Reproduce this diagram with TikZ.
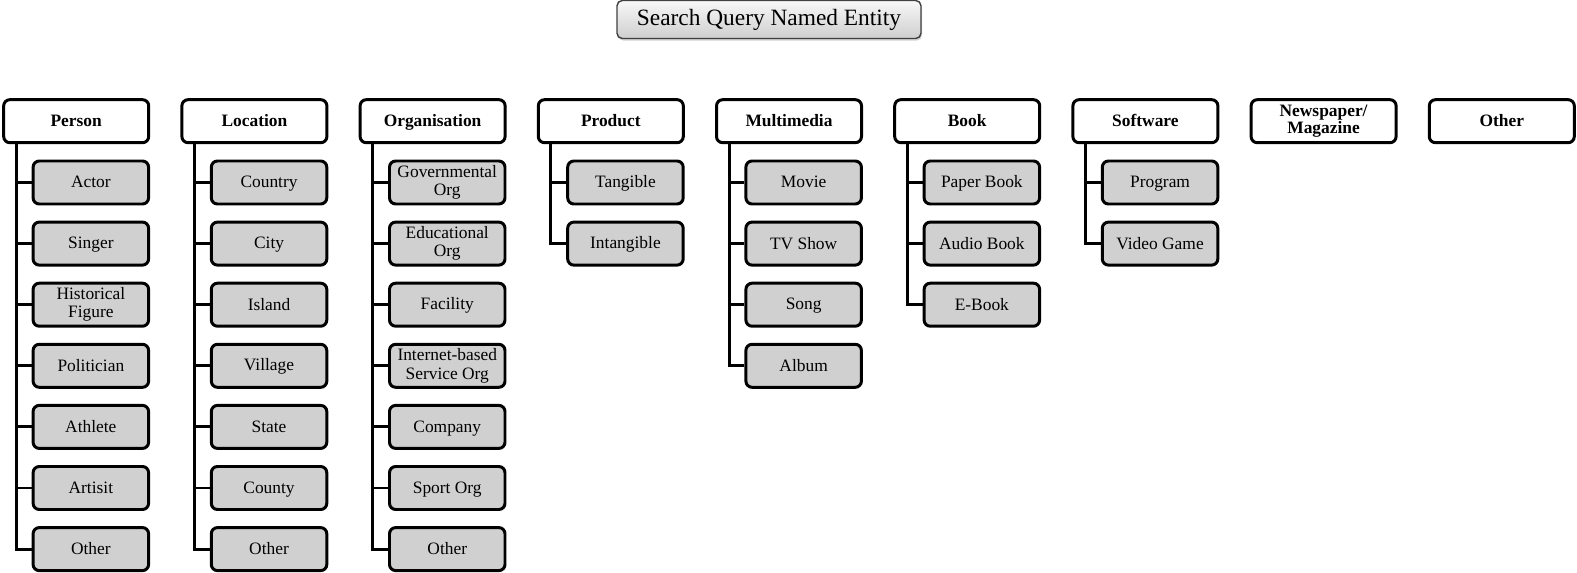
\documentclass[tikz,border=0pt]{standalone}
\usepackage{fontspec}
\setmainfont{Liberation Serif}
\usetikzlibrary{calc,positioning,shadows}
\definecolor{leafbg}{HTML}{D0D0D0}
\definecolor{rootline}{HTML}{404040}
\newcommand{\boxstrut}{\rule[-1.8pt]{0pt}{9.8pt}}
\tikzset{
  root/.style={draw=rootline, line width=0.8pt, rounded corners=3pt,
    top color=gray!6, bottom color=gray!38, minimum width=6.08cm, minimum height=0.76cm,
    font=\fontsize{13.3}{15}\selectfont,
    drop shadow={opacity=0.35, shadow xshift=0.6pt, shadow yshift=-1.2pt}},
  cat/.style={draw, fill=white, line width=1.7pt, rounded corners=3.5pt,
    minimum width=2.9cm, minimum height=0.86cm, inner sep=1pt, align=center,
    execute at begin node=\boxstrut, execute at end node=\boxstrut,
    font=\fontsize{9.9}{9.4}\selectfont\bfseries},
  leaf/.style={cat, fill=leafbg, minimum width=2.31cm,
    font=\fontsize{9.9}{10.4}\selectfont},
  link/.style={draw, line width=1.7pt}
}
% children of one category, hanging from a spine on its left
\newcommand{\kids}[2]{%
  \foreach \txt [count=\k] in {#2} {
    \node[leaf] (#1-\k) at ($(#1)+(0.293,{-1.226-1.222*(\k-1)})$) {\txt};
    \draw[link] ($(#1.south west)+(0.28,0)$) |- (#1-\k.west);
  }}

\begin{document}
\begin{tikzpicture}
  \useasboundingbox (0,0) rectangle (31.54,-11.46);
  \node[root] (root) at (15.38,-0.39) {Search Query Named Entity};

  \node[cat] (person) at (1.524,-2.424)  {Person};
  \node[cat] (loc)    at (5.088,-2.424)  {Location};
  \node[cat] (org)    at (8.652,-2.424)  {Organisation};
  \node[cat] (prod)   at (12.216,-2.424) {Product};
  \node[cat] (media)  at (15.78,-2.424)  {Multimedia};
  \node[cat] (book)   at (19.344,-2.424) {Book};
  \node[cat] (soft)   at (22.908,-2.424) {Software};
  \node[cat] (news)   at (26.472,-2.424) {Newspaper/\\Magazine};
  \node[cat] (other)  at (30.036,-2.424) {Other};

  \kids{person}{Actor, Singer, {Historical\\Figure}, Politician, Athlete, Artisit, Other}
  \kids{loc}{Country, City, Island, Village, State, County, Other}
  \kids{org}{{Governmental\\Org}, {Educational\\Org}, Facility, {Internet-based\\Service Org}, Company, Sport Org, Other}
  \kids{prod}{Tangible, Intangible}
  \kids{media}{Movie, TV Show, Song, Album}
  \kids{book}{Paper Book, Audio Book, E-Book}
  \kids{soft}{Program, Video Game}
\end{tikzpicture}
\end{document}
